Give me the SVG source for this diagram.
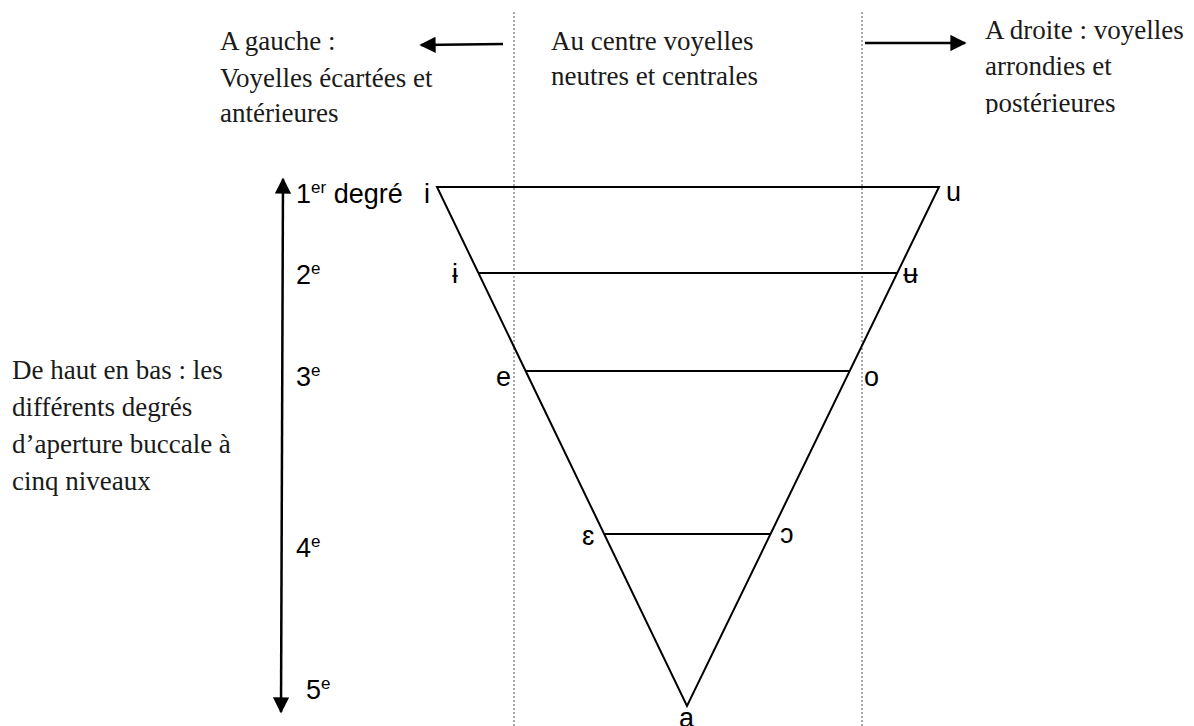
<svg xmlns="http://www.w3.org/2000/svg" width="1194" height="726" viewBox="0 0 1194 726">
<style>
.serif{font-family:"Liberation Serif","DejaVu Serif",serif;font-size:27px;fill:#1a1a1a}
.sans{font-family:"Liberation Sans","DejaVu Sans",sans-serif;font-size:27px;fill:#000}
.sup{font-size:17px}
.tri{stroke:#000;stroke-width:2;fill:none}
.dot{stroke:#555;stroke-width:1;stroke-dasharray:2,2;fill:none}
.arr{stroke:#000;stroke-width:2.5;fill:none}
</style>
<defs>
<marker id="ah" viewBox="0 0 10 10" refX="9" refY="5" markerWidth="7" markerHeight="6.5" markerUnits="strokeWidth" orient="auto">
<path d="M0,0 L10,5 L0,10 Z" fill="#000"/>
</marker>
<clipPath id="clipR"><rect x="900" y="0" width="294" height="114"/></clipPath>
</defs>
<rect width="1194" height="726" fill="#fff"/>
<g id="guides">
<line class="dot" x1="514" y1="12" x2="514" y2="726"/>
<line class="dot" x1="862" y1="12" x2="862" y2="726"/>
</g>
<g id="connectors">
<line class="arr" x1="503" y1="44" x2="421" y2="45" marker-end="url(#ah)"/>
<line class="arr" x1="865" y1="43" x2="965" y2="43" marker-end="url(#ah)"/>
<line class="arr" x1="282" y1="445" x2="283" y2="179" marker-end="url(#ah)"/>
<line class="arr" x1="282" y1="445" x2="281" y2="712" marker-end="url(#ah)"/>
</g>
<g id="triangle">
<polygon class="tri" points="437,187 939,187 687,706"/>
<line class="tri" x1="478" y1="273" x2="897" y2="273"/>
<line class="tri" x1="525" y1="371" x2="850" y2="371"/>
<line class="tri" x1="604" y1="534" x2="771" y2="534"/>
</g>
<g id="left-note">
<text class="serif"><tspan x="220" y="50">A gauche :</tspan><tspan x="220" y="87">Voyelles écartées et</tspan><tspan x="220" y="122">antérieures</tspan></text>
</g>
<g id="center-note">
<text class="serif"><tspan x="551" y="50">Au centre voyelles</tspan><tspan x="551" y="85">neutres et centrales</tspan></text>
</g>
<g id="right-note" clip-path="url(#clipR)">
<text class="serif"><tspan x="985" y="39">A droite : voyelles</tspan><tspan x="985" y="75">arrondies et</tspan><tspan x="985" y="112">postérieures</tspan></text>
</g>
<g id="side-note">
<text class="serif"><tspan x="12" y="379">De haut en bas : les</tspan><tspan x="12" y="416">différents degrés</tspan><tspan x="12" y="453">d’aperture buccale à</tspan><tspan x="12" y="490">cinq niveaux</tspan></text>
</g>
<g id="degrees">
<text class="sans" x="296" y="203">1<tspan class="sup" dy="-10">er</tspan><tspan dy="10"> degré</tspan></text>
<text class="sans" x="296" y="284">2<tspan class="sup" dy="-10">e</tspan></text>
<text class="sans" x="296" y="386">3<tspan class="sup" dy="-10">e</tspan></text>
<text class="sans" x="296" y="557">4<tspan class="sup" dy="-10">e</tspan></text>
<text class="sans" x="306" y="699">5<tspan class="sup" dy="-10">e</tspan></text>
</g>
<g id="vowels">
<text class="sans" x="424" y="203">i</text>
<text class="sans" x="946" y="201">u</text>
<text class="sans" x="452" y="283">ɨ</text>
<text class="sans" x="903" y="283">ʉ</text>
<text class="sans" x="496" y="386">e</text>
<text class="sans" x="864" y="386">o</text>
<text class="sans" x="582" y="545">ɛ</text>
<text class="sans" x="780" y="543">ɔ</text>
<text class="sans" x="679" y="727">a</text>
</g>
</svg>
